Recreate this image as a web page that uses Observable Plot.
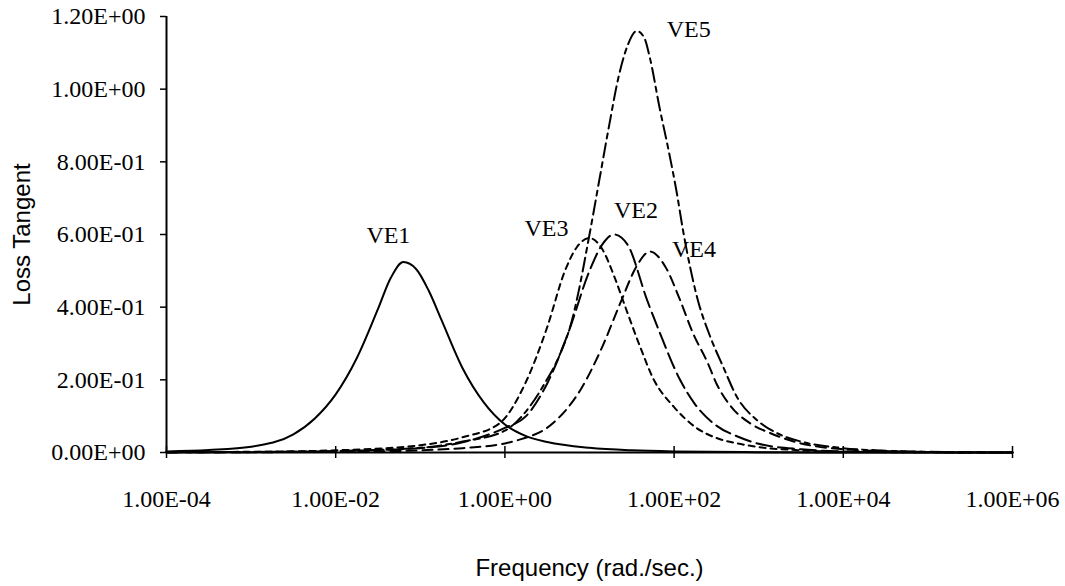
<!DOCTYPE html>
<html>
<head>
<meta charset="utf-8">
<script src="https://cdn.jsdelivr.net/npm/d3@7"></script>
<script src="https://cdn.jsdelivr.net/npm/@observablehq/plot@0.6"></script>
<style>
  html, body { margin: 0; padding: 0; background: #fff; }
</style>
</head>
<body>
<div id="chart"></div>
<script>
// Loss tangent vs. frequency for five viscoelastic materials.
// Each point: [log10 of frequency in rad/s, loss tangent]
const seriesNames = ["VE1", "VE2", "VE3", "VE4", "VE5"];

const ve1 = [[-4, 0.003], [-3.5, 0.007], [-3, 0.016], [-2.5, 0.05], [-2.25, 0.093], [-2, 0.16],
  [-1.75, 0.26], [-1.5, 0.395], [-1.35, 0.48], [-1.2, 0.524], [-1.05, 0.505], [-0.9, 0.445],
  [-0.75, 0.365], [-0.5, 0.232], [-0.25, 0.138], [0, 0.077], [0.25, 0.045], [0.5, 0.029],
  [1, 0.013], [1.5, 0.006], [2, 0.003], [3, 0.001], [4, 0.0003], [6, 0]];

const ve2 = [[-4, 0.0005], [-3, 0.001], [-2, 0.004], [-1, 0.012], [-0.5, 0.028], [0, 0.068],
  [0.25, 0.1], [0.5, 0.19], [0.75, 0.33], [1, 0.5], [1.15, 0.572], [1.29, 0.6], [1.45, 0.572],
  [1.68, 0.42], [1.83, 0.33], [2.07, 0.2], [2.25, 0.132], [2.5, 0.074], [2.75, 0.044],
  [3, 0.024], [3.5, 0.009], [4, 0.003], [5, 0.0005], [6, 0]];

const ve3 = [[-4, 0.001], [-3, 0.002], [-2, 0.006], [-1, 0.02], [-0.5, 0.042], [-0.06, 0.081],
  [0.24, 0.19], [0.5, 0.345], [0.71, 0.5], [0.85, 0.565], [1, 0.59], [1.15, 0.56], [1.3, 0.48],
  [1.44, 0.39], [1.6, 0.29], [1.75, 0.205], [2, 0.125], [2.25, 0.07], [2.5, 0.04],
  [2.75, 0.025], [3, 0.015], [3.5, 0.006], [4, 0.002], [5, 0.0005], [6, 0]];

const ve4 = [[-4, 0.0003], [-3, 0.0008], [-2, 0.002], [-1, 0.006], [-0.5, 0.012], [0, 0.025],
  [0.155, 0.034], [0.57, 0.081], [0.9, 0.175], [1.13, 0.28], [1.38, 0.42], [1.55, 0.51],
  [1.715, 0.553], [1.9, 0.51], [2.07, 0.42], [2.22, 0.33], [2.4, 0.245], [2.5, 0.19],
  [2.66, 0.13], [2.9, 0.08], [3.13, 0.054], [3.5, 0.025], [4, 0.009], [4.5, 0.004],
  [5, 0.0015], [6, 0]];

const ve5 = [[-4, 0.0005], [-3, 0.0015], [-2, 0.004], [-1, 0.013], [-0.5, 0.03], [0, 0.06],
  [0.14, 0.085], [0.47, 0.19], [0.65, 0.27], [0.8, 0.37], [0.85, 0.42], [1, 0.6], [1.12, 0.755],
  [1.24, 0.91], [1.34, 1.03], [1.45, 1.12], [1.558, 1.16], [1.65, 1.14], [1.715, 1.085],
  [1.83, 0.947], [1.93, 0.837], [2.03, 0.717], [2.105, 0.612], [2.28, 0.42], [2.425, 0.32],
  [2.58, 0.236], [2.74, 0.154], [2.98, 0.089], [3.21, 0.054], [3.5, 0.03], [4, 0.012],
  [4.5, 0.005], [5, 0.002], [6, 0]];

const xTicks = [1e-4, 1e-2, 1e0, 1e2, 1e4, 1e6];
const yTicks = [0, 0.2, 0.4, 0.6, 0.8, 1.0, 1.2];

const xTitle = "Frequency (rad./sec.)";
const yTitle = "Loss Tangent";

// Spreadsheet-style scientific notation, e.g. 1.00E-04
function sci(d) {
  const [m, e] = d.toExponential(2).split("e");
  const n = +e;
  return m + "E" + (n < 0 ? "-" : "+") + String(Math.abs(n)).padStart(2, "0");
}

const allSeries = [ve1, ve2, ve3, ve4, ve5];
const rows = [];
allSeries.forEach((s, i) => s.forEach(([d, v]) => rows.push({series: seriesNames[i], freq: 10 ** d, tan: v})));

// Line style for each material
const dashes = {VE1: null, VE2: "16,6", VE3: "6,5", VE4: "10,6", VE5: "14,5,5,5"};
// Label placement relative to each curve's peak (px)
const labelOffset = {VE1: [-15, -27], VE2: [22, -24], VE3: [-43, -10], VE4: [44, -2], VE5: [52, -2]};

const sans = "'Liberation Sans', Arial, sans-serif";

const marks = [];
for (const name of seriesNames) {
  const pts = rows.filter(r => r.series === name);
  marks.push(Plot.line(pts, {
    x: "freq", y: "tan", stroke: "black", strokeWidth: 2,
    strokeDasharray: dashes[name], curve: "monotone-x"
  }));
  const peak = d3.greatest(pts, r => r.tan);
  marks.push(Plot.text([peak], {
    x: "freq", y: "tan", text: "series",
    dx: labelOffset[name][0], dy: labelOffset[name][1],
    fontSize: 24, fill: "black"
  }));
}

const chart = Plot.plot({
  width: 1065,
  height: 586,
  marginLeft: 166,
  marginRight: 53,
  marginTop: 16,
  marginBottom: 134,
  style: {fontFamily: "'Liberation Serif', 'Times New Roman', serif", fontSize: "24px", background: "white", color: "black"},
  x: {type: "log", domain: [1e-4, 1e6]},
  y: {domain: [0, 1.2]},
  marks: [
    Plot.axisY({ticks: yTicks, tickFormat: sci, tickSize: 6, tickPadding: 15, label: null, strokeWidth: 1.5}),
    Plot.axisX({ticks: xTicks, tickFormat: () => "", tickSize: 12, dy: -6, label: null, strokeWidth: 1.5}),
    Plot.axisX({ticks: xTicks, tickFormat: sci, tickSize: 0, tickPadding: 37, label: null}),
    ...marks,
    Plot.ruleY([0], {stroke: "black", strokeWidth: 2}),
    Plot.ruleX([1e-4], {stroke: "black", strokeWidth: 2}),
    Plot.text([yTitle], {frameAnchor: "left", dx: -144, rotate: -90, textAnchor: "middle", lineAnchor: "middle", fontFamily: sans, fontSize: 24}),
    Plot.text([xTitle], {frameAnchor: "bottom", dy: 116, textAnchor: "middle", lineAnchor: "middle", fontFamily: sans, fontSize: 24})
  ]
});

document.getElementById("chart").appendChild(chart);
</script>
</body>
</html>
